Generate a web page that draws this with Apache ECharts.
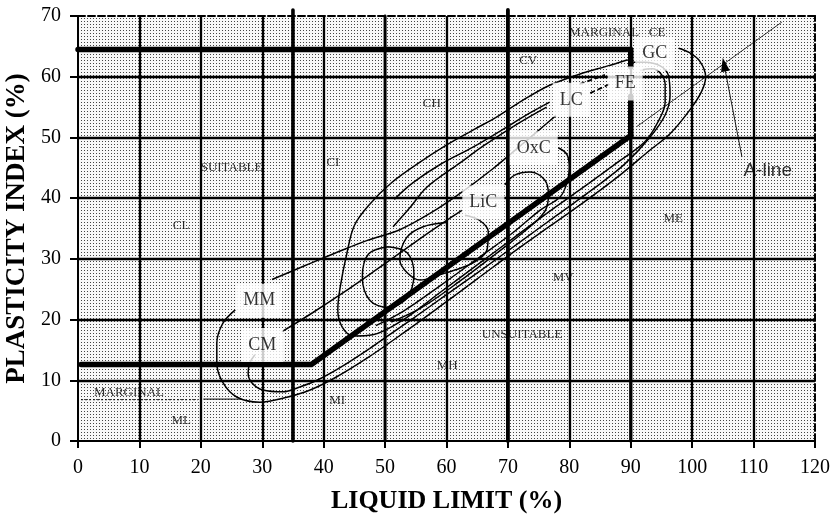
<!DOCTYPE html>
<html><head><meta charset="utf-8">
<script src="https://cdn.jsdelivr.net/npm/echarts@6/dist/echarts.min.js"></script>
<style>html,body{margin:0;padding:0;background:#fff}#c{width:834px;height:518px}</style>
</head><body><div id="c"></div>
<script>
// ---- axis ranges / ticks ----
const xTicks = [0,10,20,30,40,50,60,70,80,90,100,110,120];
const yTicks = [0,10,20,30,40,50,60,70];

// ---- classification boundary lines (LL, PI) ----
const boundaryUpper = [[0,64.5],[90,64.5],[90,61.6]];
const boundaryUpperV = [[90,56.8],[90,50.3]];
const boundaryLower = [[0.5,12.6],[38,12.6],[90,50.3]];
const vLine35 = [[35,0],[35,71]];
const vLine50 = [[50,0],[50,70]];
const vLine70 = [[70,0],[70,71]];
const vLine90 = [[90,0],[90,50]];
const aLine = [[91,51.8],[114.6,69]];
const marginalDotted = [[0.5,6.8],[19.5,6.8]];
const marginalSolid = [[20.4,6.9],[26.5,6.9]];

// ---- clay contour curves (LL, PI) ----
const mmUpper = [[31.6,26.6],[37,28.9],[42,31],[47,33],[52.4,34.8],[57.5,37.6],[62.5,41],[67.5,44.8],[72,48.6],[75.5,51.6],[77.8,53.6]];
const mmLower = [[25.6,21.6],[23.6,19.4],[22.6,16.1],[22.6,12.9],[23.6,9.6],[25.9,7.2],[29.6,6.4],[34,7.2],[37.8,8.4],[42,10.5],[47,13.6],[53,17.8],[59,22.2],[65,26.7],[71,31.2],[77,35.5],[83,39.8],[88.5,44],[93,47.8],[96.4,50.6],[99.6,54.5],[101.5,57.5],[102.2,60],[101.2,62.6],[99.5,64],[97.8,64.7]];
const cmUpper = [[33.2,18],[38,21],[43,24.3],[48,27.8],[53,31.4],[57.5,34.6],[61,37],[62.5,38]];
const cmLower = [[28.8,14.2],[28,12.9],[27.7,11.2],[28.3,9.6],[30.1,8.4],[33.4,8.1],[36.1,8.9],[38.9,10],[43,12.3],[48,15.6],[54,19.8],[60,24.1],[66,28.4],[72,32.8],[78,37.2],[84,41.6],[89,45.6],[93.1,50],[95.6,53.7],[96.4,57],[96.1,60.3],[94.8,61.8],[92.3,62.4],[90.4,62.4]];
const bigLoop = [[89.5,62.8],[86,61.7],[82.2,60.6],[76.8,58.6],[72.4,56.1],[68.2,53.4],[64.3,51.2],[60.1,48.8],[55.5,45.8],[51,42.5],[47.5,39],[45,35.5],[43.8,31],[42.7,25.4],[42.3,21.6],[43,18.8],[44.8,17.3],[48,17.5],[53,20],[59,24.5],[65,29],[71,33.5],[77,38],[83,42.3],[88,46],[92.3,49.3],[94.4,52.5],[95.6,55.8],[95.6,58.8],[94.8,60.6],[93.5,61.3],[91.5,61.1]];
const lcA = [[76.8,55.8],[72.5,53.4],[69.8,51.7],[64.3,48.4],[58.9,45.5],[54.5,42.5],[51.5,39.8]];
const lcB = [[76.3,55],[71.5,52.2],[66,48.6],[62.2,45.8],[56.8,41.8],[54.1,38.5],[51.3,35.3]];
const lcDash1 = [[81.7,58.8],[85.8,60.3]];
const lcDash2 = [[83.4,57.3],[86.6,58.8]];
const oxcLoop = [[78.2,48.3],[79.6,47.2],[80,45],[79.6,42.5],[78.5,40.2],[75.2,38],[70.8,34.3],[65,30],[59,25.6],[53,21.4],[48.5,19]];
const licLoop = [[60,36],[56.2,35.3],[53.5,33.5],[52.4,29.8],[53.6,27.7],[55.7,26.5],[58.9,27.4],[61.5,28.2],[64.6,29.5],[66.6,31.5],[66.8,34.5],[65.3,36.4],[63,37.2]];
const licRight = [[69.5,42.2],[71.1,43.8],[73.6,44.3],[76,43],[76.6,40.5],[76,37.8],[73,34.8],[68,30.8],[62,26.2],[56,22],[51,19.6]];
const circleB = [[50.5,32],[53.6,31],[54.7,27.5],[53.5,23.5],[50.5,22],[47.5,23.2],[46.3,27],[47.3,30.8],[50.5,32]];

// ---- zone labels ----
const zoneNames = ['SUITABLE','CI','CH','CL','CV','MARGINAL   CE','ME','MV','UNSUITABLE','MH','MI','ML','MARGINAL'];
const zoneX = [25,41.5,57.6,16.8,73.3,87.8,96.9,79,72.3,60.1,42.2,16.8,8.3];
const zoneY = [45.1,45.8,55.5,35.4,62.6,67.2,36.7,26.9,17.5,12.4,6.6,3.3,8.0];

// ---- clay labels (boxed) ----
const clayNames = ['MM','CM','LiC','OxC','LC','FE','GC'];
const clayX = [29.5,30,66,74.2,80.3,89.1,93.9];
const clayY = [23.1,15.8,39.3,48.2,56.2,58.9,63.8];

// ---- A-line annotation ----
const aLineLabel = ['A-line'];
const aLineLabelPos = [[112.3,44.5]];
const arrowFrom = [108.1,46.8];
const arrowTo = [105.2,62];

// dotted background pattern
const pc = document.createElement('canvas');
pc.width = 3; pc.height = 3;
const g = pc.getContext('2d');
g.fillStyle = '#f8f8f8'; g.fillRect(0,0,3,3);
g.fillStyle = '#444'; g.fillRect(0,0,1,1);

const serif = '"Liberation Serif","Times New Roman",serif';
const chart = echarts.init(document.getElementById('c'), null, {renderer:'canvas'});

function curve(data, opts) {
  return Object.assign({
    type:'line', data: data, symbol:'none', showSymbol:false, smooth:0.35,
    lineStyle:{color:'#000', width:1.5}, z:3, silent:true, animation:false
  }, opts || {});
}
function thick(data, w, clip) {
  return {type:'line', data:data, symbol:'none', showSymbol:false, smooth:false,
    lineStyle:{color:'#000', width:w, cap:'round', join:'round'}, z:2, clip: clip, silent:true, animation:false};
}

const series = [
  thick(vLine35, 3.6, false), thick(vLine50, 2.8, false), thick(vLine70, 3.8, false), thick(vLine90, 3.2, false),
  thick(boundaryUpper, 5.5, false), thick(boundaryUpperV, 5.5, false), thick(boundaryLower, 5.5, false),
  {type:'line', data:aLine, symbol:'none', lineStyle:{color:'#000', width:0.8}, z:3, clip:false, silent:true, animation:false,
   markLine:{silent:true, animation:false, symbol:['none','triangle'], symbolSize:[9,14],
     lineStyle:{color:'#000', width:0.9, type:'solid'}, label:{show:false},
     data:[[{coord:arrowFrom},{coord:arrowTo}]]}},
  {type:'line', data:marginalDotted, symbol:'none', lineStyle:{color:'#000', width:1, type:[2,2]}, z:3, silent:true, animation:false},
  curve(marginalSolid, {smooth:false, lineStyle:{color:'#000', width:1}}),
  curve(mmUpper), curve(mmLower), curve(cmUpper), curve(cmLower), curve(bigLoop),
  curve(lcA), curve(lcB), curve(oxcLoop), curve(licLoop), curve(licRight), curve(circleB),
  curve(lcDash1, {smooth:false, lineStyle:{color:'#000', width:1.8, type:[5,3]}}),
  curve(lcDash2, {smooth:false, lineStyle:{color:'#000', width:1.8, type:[5,3]}}),
  {type:'scatter', data: zoneNames.map((n,i)=>[zoneX[i], zoneY[i], n]), symbolSize:0.1,
   itemStyle:{color:'rgba(0,0,0,0)'}, z:6, silent:true, animation:false,
   label:{show:true, position:'inside', formatter:p=>p.data[2], color:'#000', fontFamily:serif, fontSize:13}},
  {type:'scatter', data: clayNames.map((n,i)=>[clayX[i], clayY[i], n]), symbolSize:0.1,
   itemStyle:{color:'rgba(0,0,0,0)'}, z:7, silent:true, animation:false,
   label:{show:true, position:'inside', formatter:p=>p.data[2], color:'#000', fontFamily:serif, fontSize:18,
     backgroundColor:'#fff', padding:[9,7,7,7]}},
  {type:'scatter', data: aLineLabelPos.map((p,i)=>[p[0], p[1], aLineLabel[i]]), symbolSize:0.1,
   itemStyle:{color:'rgba(0,0,0,0)'}, z:7, silent:true, animation:false, clip:false,
   label:{show:true, position:'inside', formatter:p=>p.data[2], color:'#000', fontFamily:'"Liberation Sans",Arial,sans-serif', fontSize:19}}
];

chart.setOption({
  animation:false,
  backgroundColor:'#fff',
  grid:{left:78, right:19, top:16, bottom:77, show:true, borderWidth:0,
    backgroundColor:{image:pc, repeat:'repeat'}, outerBoundsMode:'none', containLabel:false},
  xAxis:[
    {type:'value', min:xTicks[0], max:xTicks[xTicks.length-1], interval:10, position:'bottom',
     axisLine:{show:true, onZero:false, lineStyle:{color:'#000', width:2}},
     axisTick:{show:true, length:7, lineStyle:{color:'#000', width:2}},
     axisLabel:{color:'#000', fontFamily:serif, fontSize:20, margin:17},
     splitLine:{show:true, showMinLine:false, showMaxLine:false, lineStyle:{color:'#000', width:2.3}},
     name:'LIQUID LIMIT (%)', nameLocation:'middle', nameGap:47,
     nameTextStyle:{color:'#000', fontFamily:serif, fontWeight:'bold', fontSize:26}},
    {type:'value', min:xTicks[0], max:xTicks[xTicks.length-1], interval:10, position:'top',
     axisLine:{show:true, onZero:false, lineStyle:{color:'#000', width:2, type:[7,3]}},
     axisTick:{show:false}, axisLabel:{show:false}, splitLine:{show:false}}
  ],
  yAxis:[
    {type:'value', min:yTicks[0], max:yTicks[yTicks.length-1], interval:10, position:'left',
     axisLine:{show:true, onZero:false, lineStyle:{color:'#000', width:2}},
     axisTick:{show:true, length:8, lineStyle:{color:'#000', width:2}},
     axisLabel:{color:'#000', fontFamily:serif, fontSize:20, margin:17},
     splitLine:{show:true, showMinLine:false, showMaxLine:false, lineStyle:{color:'#000', width:2.3}},
     name:'PLASTICITY INDEX (%)', nameLocation:'middle', nameGap:44, nameRotate:90,
     nameTextStyle:{color:'#000', fontFamily:serif, fontWeight:'bold', fontSize:27}},
    {type:'value', min:yTicks[0], max:yTicks[yTicks.length-1], interval:10, position:'right',
     axisLine:{show:true, onZero:false, lineStyle:{color:'#000', width:2, type:[7,3]}},
     axisTick:{show:false}, axisLabel:{show:false}, splitLine:{show:false}}
  ],
  series: series
});
</script>
</body></html>
